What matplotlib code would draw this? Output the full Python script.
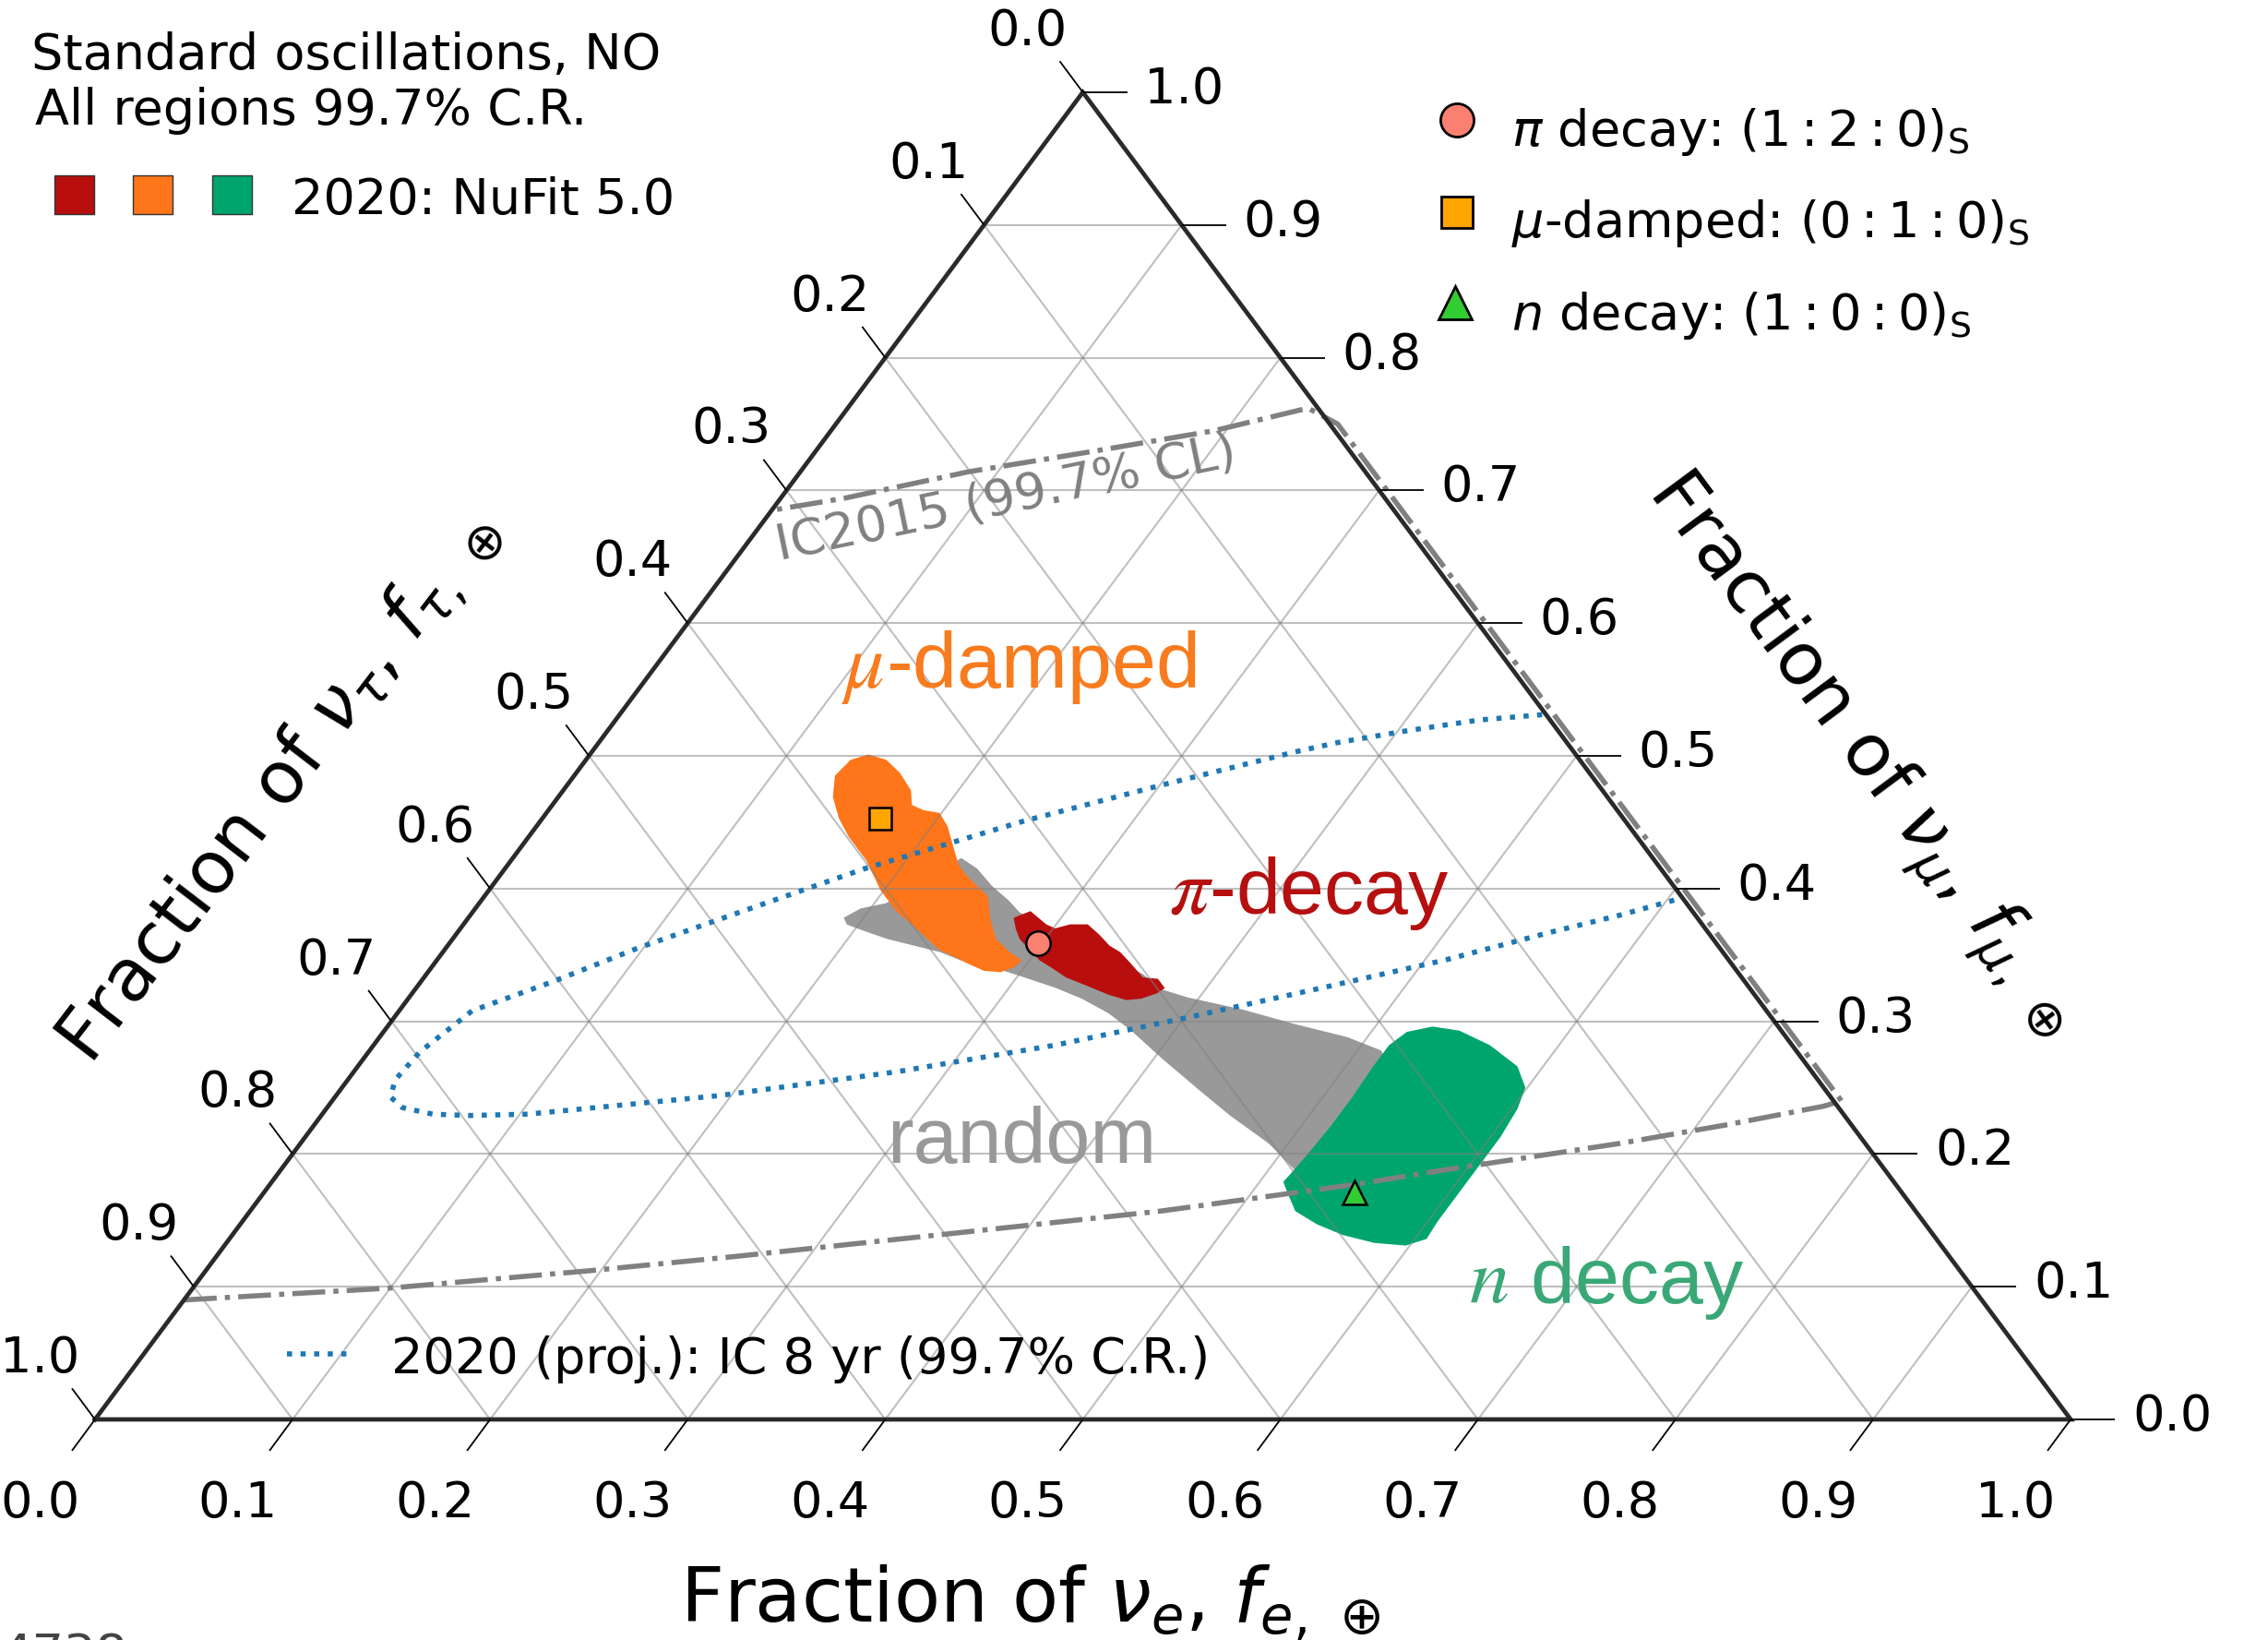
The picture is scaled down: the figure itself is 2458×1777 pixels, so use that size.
import numpy as np
import matplotlib.pyplot as plt

plt.rcParams["font.family"] = "DejaVu Sans"
plt.rcParams["mathtext.fontset"] = "dejavusans"

# Flavour compositions at Earth, given as (f_e, f_mu); f_tau = 1 - f_e - f_mu

# 99.7% C.R. regions, NuFit 5.0
mu_damped_fe = [0.141, 0.152, 0.164, 0.176, 0.182, 0.190, 0.199, 0.208, 0.217, 0.228, 0.236,
                0.249, 0.255, 0.264, 0.275, 0.287, 0.296, 0.295, 0.290, 0.281, 0.269, 0.260,
                0.250, 0.233, 0.214, 0.198, 0.180, 0.162, 0.150, 0.139, 0.132, 0.134]
mu_damped_fmu = [0.501, 0.497, 0.487, 0.474, 0.463, 0.459, 0.457, 0.447, 0.434, 0.418, 0.410,
                 0.399, 0.394, 0.378, 0.362, 0.352, 0.346, 0.341, 0.337, 0.338, 0.344, 0.349,
                 0.354, 0.368, 0.383, 0.399, 0.421, 0.439, 0.453, 0.469, 0.485, 0.497]

pi_decay_fe = [0.276, 0.282, 0.295, 0.301, 0.307, 0.316, 0.326, 0.335, 0.343, 0.352, 0.364, 0.372,
               0.379, 0.377, 0.371, 0.364, 0.353, 0.336, 0.325, 0.313, 0.305, 0.296, 0.287, 0.281]
pi_decay_fmu = [0.378, 0.383, 0.373, 0.370, 0.373, 0.373, 0.365, 0.357, 0.352, 0.344, 0.333, 0.332,
                0.325, 0.321, 0.317, 0.316, 0.320, 0.328, 0.333, 0.341, 0.346, 0.354, 0.362, 0.370]

n_decay_fe = [0.529, 0.544, 0.565, 0.587, 0.599, 0.603, 0.605, 0.605, 0.605, 0.605, 0.606, 0.598,
              0.581, 0.562, 0.545, 0.529, 0.518, 0.512, 0.513, 0.514, 0.515, 0.515, 0.514, 0.514, 0.518]
n_decay_fmu = [0.296, 0.293, 0.282, 0.266, 0.250, 0.234, 0.213, 0.192, 0.171, 0.149, 0.136, 0.131,
               0.133, 0.139, 0.147, 0.157, 0.171, 0.179, 0.189, 0.202, 0.221, 0.242, 0.266, 0.282, 0.292]

random_fe = [0.190, 0.195, 0.206, 0.216, 0.227, 0.239, 0.253, 0.267, 0.277, 0.321, 0.362, 0.378,
             0.394, 0.426, 0.458, 0.490, 0.512, 0.537, 0.518, 0.490, 0.460, 0.435, 0.404, 0.378,
             0.360, 0.341, 0.324, 0.304, 0.291, 0.265, 0.252, 0.236, 0.220, 0.203, 0.194]
random_fmu = [0.378, 0.385, 0.389, 0.407, 0.423, 0.415, 0.402, 0.391, 0.382, 0.357, 0.336, 0.324,
              0.318, 0.309, 0.298, 0.288, 0.278, 0.248, 0.184, 0.208, 0.229, 0.248, 0.272, 0.293,
              0.306, 0.317, 0.325, 0.333, 0.338, 0.346, 0.352, 0.357, 0.362, 0.369, 0.373]

# IceCube 8 yr projection (clipped at the triangle edge)
ic8_fe = [0.467, 0.437, 0.405, 0.374, 0.356, 0.301, 0.245, 0.182, 0.135, 0.097, 0.067, 0.037,
          0.026, 0.024, 0.028, 0.038, 0.056, 0.075, 0.104, 0.162, 0.194, 0.275, 0.345, 0.402,
          0.458, 0.510, 0.553, 0.582, 0.607]
ic8_fmu = [0.531, 0.527, 0.519, 0.510, 0.503, 0.478, 0.451, 0.415, 0.382, 0.355, 0.330, 0.308,
           0.277, 0.256, 0.243, 0.235, 0.230, 0.229, 0.230, 0.239, 0.244, 0.262, 0.282, 0.303,
           0.325, 0.346, 0.367, 0.380, 0.393]

# IceCube 2015 99.7% CL contour
ic2015_fe = [0.000, 0.100, 0.194, 0.264, 0.363, 0.461, 0.549, 0.589, 0.621, 0.668, 0.715, 0.757,
             0.764, 0.304, 0.254, 0.233, 0.194, 0.139, 0.085, 0.032, 0.000]
ic2015_fmu = [0.090, 0.099, 0.112, 0.123, 0.140, 0.157, 0.177, 0.188, 0.196, 0.208, 0.222, 0.236,
              0.240, 0.700, 0.750, 0.762, 0.745, 0.729, 0.714, 0.694, 0.685]

# source benchmarks at Earth
pi_point = (0.298, 0.359)
mu_point = (0.171, 0.453)
n_point = (0.552, 0.171)

ticks = np.round(np.arange(0.0, 1.01, 0.1), 1)
tick_labels = ["%.1f" % t for t in ticks]
grid_vals = ticks[1:-1]

RED = "#b80e0e"
ORANGE = "#ff7519"
GREEN = "#00a56e"
GRAY = "#999999"


def to_xy(fe, fmu):
    fe = np.asarray(fe, dtype=float)
    fmu = np.asarray(fmu, dtype=float)
    return fe + 0.5 * fmu, fmu


def draw_frame(ax):
    grid_kw = dict(color="#808080", alpha=0.5, lw=1.5, zorder=2)
    for g in grid_vals:
        ax.plot(*to_xy([g, g], [0, 1 - g]), **grid_kw)
        ax.plot(*to_xy([0, 1 - g], [g, g]), **grid_kw)
        ax.plot(*to_xy([1 - g, 0], [0, 1 - g]), **grid_kw)
    ax.plot(*to_xy([0, 1, 0, 0], [0, 0, 1, 0]), color="#2a2a2a", lw=3.4,
            solid_joinstyle="miter", zorder=6)

    tick_kw = dict(color="k", lw=1.3, zorder=6, solid_capstyle="butt")
    lab_kw = dict(fontsize=39, ha="center", va="center")
    for t, lab in zip(ticks, tick_labels):
        # bottom axis: f_e
        x, y = to_xy(t, 0)
        ax.plot([x, x - 0.0117], [y, y - 0.0236], **tick_kw)
        ax.text(x - 0.0280, y - 0.0633, lab, **lab_kw)
        # right axis: f_mu
        x, y = to_xy(1 - t, t)
        ax.plot([x, x + 0.0224], [y, y], **tick_kw)
        ax.text(x + 0.0514, y + 0.0021, lab, **lab_kw)
        # left axis: f_tau
        x, y = to_xy(0, 1 - t)
        ax.plot([x, x - 0.0117], [y, y + 0.0234], **tick_kw)
        ax.text(x - 0.0280, y + 0.0459, lab, **lab_kw)


def main():
    fig = plt.figure(figsize=(24.58, 17.77), dpi=100)
    ax = fig.add_axes([0, 0, 1, 1])
    ax.set_xlim(-0.0481, 1.0999)
    ax.set_ylim(-0.1662, 1.0695)
    ax.set_axis_off()

    ax.fill(*to_xy(random_fe, random_fmu), color=GRAY, lw=0, zorder=1)
    ax.fill(*to_xy(mu_damped_fe, mu_damped_fmu), color=ORANGE, lw=0, zorder=1)
    ax.fill(*to_xy(pi_decay_fe, pi_decay_fmu), color=RED, lw=0, zorder=1)
    ax.fill(*to_xy(n_decay_fe, n_decay_fmu), color=GREEN, lw=0, zorder=1)

    draw_frame(ax)

    ax.plot(*to_xy(ic8_fe, ic8_fmu), color="#1f77b4", ls=":", lw=4.0, zorder=3)
    ax.plot(*to_xy(ic2015_fe, ic2015_fmu), color="#808080", ls="-.", lw=4.0, zorder=3)

    mk = dict(ls="none", mec="k", mew=1.8, zorder=7)
    ax.plot(*to_xy(*pi_point), marker="o", ms=19, mfc="salmon", **mk)
    ax.plot(*to_xy(*mu_point), marker="s", ms=17, mfc="orange", **mk)
    ax.plot(*to_xy(*n_point), marker="^", ms=19, mfc="limegreen", **mk)

    # region names
    reg_kw = dict(fontsize=62, family="Liberation Sans", math_fontfamily="stix",
                  ha="center", va="baseline", transform=ax.transAxes, zorder=8)
    ax.text(0.4491, 0.5808, r"$\mu$-damped", color="#f87b1e", **reg_kw)
    ax.text(0.5771, 0.4429, r"$\pi$-decay", color="#b50f0f", **reg_kw)
    ax.text(0.4504, 0.2909, "random", color=GRAY, **reg_kw)
    ax.text(0.7085, 0.2054, r"$n$ decay", color="#3aa876", **reg_kw)

    ax.text(0.4435, 0.6961, "IC2015 (99.7% CL)", color="#808080", fontsize=39,
            rotation=11.7, rotation_mode="anchor", ha="center", va="center",
            transform=ax.transAxes, zorder=8)

    # axis titles
    ax.text(0.4542, 0.0107, r"Fraction of $\nu_e$, $f_{e,\,\oplus}$", fontsize=59,
            ha="center", va="baseline", transform=ax.transAxes)
    ax.text(0.1235, 0.5200, r"Fraction of $\nu_\tau$, $f_{\tau,\,\oplus}$", fontsize=57,
            rotation=52.5, rotation_mode="anchor", ha="center", va="center",
            transform=ax.transAxes)
    ax.text(0.8215, 0.5400, r"Fraction of $\nu_\mu$, $f_{\mu,\,\oplus}$", fontsize=57,
            rotation=-53.5, rotation_mode="anchor", ha="center", va="center",
            transform=ax.transAxes)

    # top-left annotation and region legend
    ax.text(0.0140, 0.9578, "Standard oscillations, NO", fontsize=39,
            ha="left", va="baseline", transform=ax.transAxes)
    ax.text(0.0155, 0.9240, "All regions 99.7% C.R.", fontsize=39,
            ha="left", va="baseline", transform=ax.transAxes)
    for x0, c in zip([0.02388, 0.05858, 0.09357], [RED, ORANGE, GREEN]):
        ax.add_patch(plt.Rectangle((x0, 0.8694), 0.0175, 0.0236, facecolor=c,
                                   edgecolor="#333333", lw=1.0, transform=ax.transAxes))
    ax.text(0.1286, 0.8694, "2020: NuFit 5.0", fontsize=39,
            ha="left", va="baseline", transform=ax.transAxes)

    # source legend
    leg_mk = dict(ls="none", mec="k", mew=2.0, transform=ax.transAxes)
    ax.plot(0.6424, 0.9268, marker="o", ms=26, mfc="salmon", **leg_mk)
    ax.plot(0.6424, 0.8706, marker="s", ms=24, mfc="orange", **leg_mk)
    ax.plot(0.6414, 0.8154, marker="^", ms=26, mfc="limegreen", **leg_mk)
    leg_txt = dict(fontsize=39, ha="left", va="baseline", transform=ax.transAxes)
    ax.text(0.6664, 0.9111, r"$\pi$ decay: $(1:2:0)_\mathrm{S}$", **leg_txt)
    ax.text(0.6664, 0.8554, r"$\mu$-damped: $(0:1:0)_\mathrm{S}$", **leg_txt)
    ax.text(0.6664, 0.7991, r"$n$ decay: $(1:0:0)_\mathrm{S}$", **leg_txt)

    # projection legend
    ax.plot([0.1265, 0.1562], [0.1745, 0.1745], color="#1f77b4", ls=":", lw=4.0,
            transform=ax.transAxes)
    ax.text(0.1725, 0.1626, "2020 (proj.): IC 8 yr (99.7% C.R.)", fontsize=39,
            ha="left", va="baseline", transform=ax.transAxes)

    # page number peeking in at the bottom edge
    ax.text(0.0, 0.0051, "4738", fontsize=39, color="#444444",
            ha="left", va="top", transform=ax.transAxes)

    fig.savefig("out.png", dpi=100)


if __name__ == "__main__":
    main()
